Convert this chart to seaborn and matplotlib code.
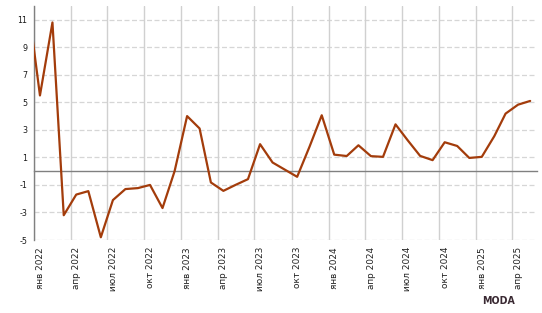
import pandas as pd
import matplotlib
matplotlib.use("Agg")
import matplotlib.pyplot as plt
import matplotlib.transforms as mtransforms
import seaborn as sns

# ---------------------------
# Data: monthly values, Dec 2021 .. May 2025 (Dec 2021 lies left of the view)
# ---------------------------
start_month = "2021-12"
values = [
    12.5,                                                           # 2021 дек
    5.5, 10.8, -3.2, -1.7, -1.45, -4.8, -2.1, -1.3, -1.23, -1.0, -2.68, 0.0,   # 2022
    4.0, 3.1, -0.82, -1.43, -1.0, -0.58, 1.96, 0.63, 0.1, -0.41, 1.8, 4.06,    # 2023
    1.2, 1.1, 1.88, 1.09, 1.04, 3.4, 2.25, 1.11, 0.8, 2.1, 1.83, 0.96,         # 2024
    1.04, 2.54, 4.18, 4.83, 5.1,                                               # 2025
]
month_names = ["янв", "апр", "июл", "окт"]
tick_years = [2022, 2023, 2024, 2025]
y_ticks = [-5, -3, -1, 1, 3, 5, 7, 9, 11]

dates = pd.date_range(start_month, periods=len(values), freq="MS") + pd.Timedelta(days=14)
df = pd.DataFrame({"date": dates, "value": values})

tick_dates = []
tick_labels = []
for yr in tick_years:
    for m, name in zip([1, 4, 7, 10], month_names):
        d = pd.Timestamp(year=yr, month=m, day=1)
        if d <= pd.Timestamp("2025-04-01"):
            tick_dates.append(d)
            tick_labels.append(f"{name} {yr}")

# ---------------------------
# Plot
# ---------------------------
sns.set_style("white")
plt.rcParams["font.family"] = ["DejaVu Sans"]

fig = plt.figure(figsize=(5.42, 3.13), dpi=100)
ax = fig.add_axes([0.0633, 0.2332, 0.9275, 0.7478])

sns.lineplot(data=df, x="date", y="value", ax=ax, color="#A33C0B", linewidth=1.6, zorder=3)

ax.set_xlim(pd.Timestamp("2022-01-01"), pd.Timestamp("2025-06-01"))
ax.set_ylim(-5, 12)
ax.set_xlabel("")
ax.set_ylabel("")

# horizontal dashed grid
ax.set_yticks(y_ticks)
ax.set_yticklabels([str(v) for v in y_ticks])
for v in y_ticks:
    ax.axhline(v, color="#d6d6d6", linewidth=0.9, linestyle=(0, (4, 2)), zorder=0)

# vertical quarter grid
ax.set_xticks(tick_dates)
ax.grid(axis="x", color="#d0d0d0", linewidth=1.0, linestyle="-")
ax.set_axisbelow(True)

# bottom spine sits on zero with short ticks; labels on secondary axis at bottom
for s in ["top", "right"]:
    ax.spines[s].set_visible(False)
ax.spines["bottom"].set_position(("data", 0))
ax.spines["bottom"].set_color("#808080")
ax.spines["bottom"].set_linewidth(1.0)
ax.spines["bottom"].set_zorder(2)
ax.spines["left"].set_color("#808080")
ax.spines["left"].set_linewidth(1.0)
ax.tick_params(axis="x", direction="out", length=3, width=0.8, color="#808080",
               labelbottom=False)
ax.tick_params(axis="y", length=3, color="#808080", labelsize=5.8, labelcolor="#1a1a1a", pad=2)

sec = ax.secondary_xaxis("bottom")
sec.set_xticks(tick_dates)
sec.set_xticklabels(tick_labels, rotation=90, fontsize=6.4, color="#222222")
sec.tick_params(length=0, pad=5)
sec.spines["bottom"].set_visible(False)
offset = mtransforms.ScaledTranslation(6 / 100, 0, fig.dpi_scale_trans)
for lbl in sec.get_xticklabels():
    lbl.set_transform(lbl.get_transform() + offset)

# watermark
fig.text(0.889, 0.022, "MODA", fontsize=7.6, fontweight="bold", color="#3a2a33",
         ha="left", va="bottom", fontstretch="condensed")

fig.savefig("out.png", dpi=100)
